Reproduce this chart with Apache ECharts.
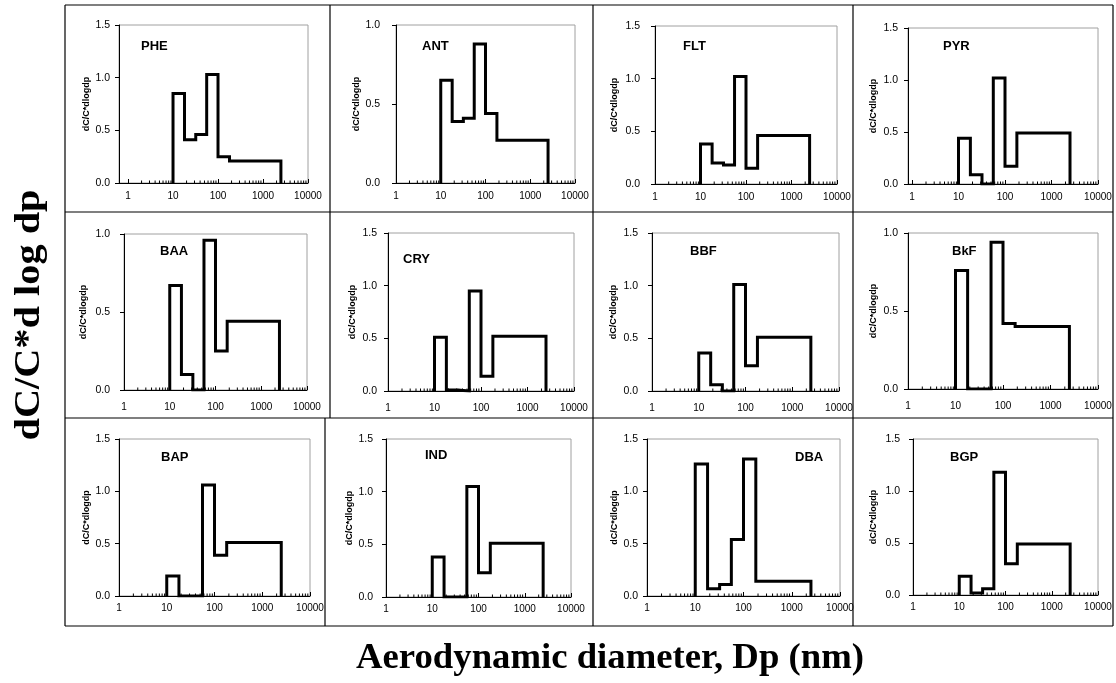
<!DOCTYPE html>
<html lang="en">
<head>
    <meta charset="UTF-8">
    <title>PAH size distributions</title>
    <script src="https://cdn.jsdelivr.net/npm/echarts@6/dist/echarts.min.js"></script>
    <style>
        html, body { margin: 0; padding: 0; background: #fff; }
        #chart { width: 1116px; height: 683px; }
    </style>
</head>
<body>
    <div id="chart"></div>
    <script>
        // impactor stage edges (nm)
        const edges = [10, 18, 32, 56, 100, 180, 2500]

        // dC/C*dlogdp per stage
        const PHE = [0.85, 0.41, 0.46, 1.03, 0.25, 0.21]
        const ANT = [0.65, 0.39, 0.41, 0.88, 0.44, 0.27]
        const FLT = [0.38, 0.20, 0.18, 1.02, 0.15, 0.46]
        const PYR = [0.44, 0.09, 0.00, 1.02, 0.17, 0.49]
        const BAA = [0.67, 0.10, 0.00, 0.96, 0.25, 0.44]
        const CRY = [0.51, 0.01, 0.00, 0.95, 0.14, 0.52]
        const BBF = [0.36, 0.06, 0.00, 1.01, 0.24, 0.51]
        const BkF = [0.76, 0.00, 0.00, 0.94, 0.42, 0.40]
        const BAP = [0.19, 0.00, 0.00, 1.06, 0.39, 0.51]
        const IND = [0.38, 0.00, 0.00, 1.05, 0.23, 0.51]
        const DBA = [1.26, 0.07, 0.11, 0.54, 1.31, 0.14]
        const BGP = [0.18, 0.02, 0.06, 1.18, 0.30, 0.49]

        const panelNames = ['PHE', 'ANT', 'FLT', 'PYR', 'BAA', 'CRY', 'BBF', 'BkF', 'BAP', 'IND', 'DBA', 'BGP']
        const panelValues = [PHE, ANT, FLT, PYR, BAA, CRY, BBF, BkF, BAP, IND, DBA, BGP]
        const yMax = [1.5, 1.0, 1.5, 1.5, 1.0, 1.5, 1.5, 1.0, 1.5, 1.5, 1.5, 1.5]
        const xMin = [0.63, 1, 1, 0.82, 1, 1, 1, 1, 1, 1, 1, 1]
        const xTickLabels = ['1', '10', '100', '1000', '10000']

        // plot boxes [left, top, width, height] and panel label spot [left, top]
        const boxes = [
            [119, 25, 189, 158], [396, 25, 179, 158], [655, 26, 182, 158], [908, 28, 190, 156],
            [124, 234, 183, 156], [388, 233, 186, 158], [652, 233, 187, 158], [908, 233, 190, 156],
            [119, 439, 191, 157], [386, 439, 185, 158], [647, 439, 193, 157], [913, 439, 185, 156]
        ]
        const labelSpots = [
            [141, 40], [422, 40], [683, 40], [943, 40],
            [160, 245], [403, 253], [690, 245], [952, 245],
            [161, 451], [425, 449], [795, 451], [950, 451]
        ]
        // distance of the y tick labels and y title from the axis line
        const yLabelGap = [9, 16, 15, 10, 14, 11, 14, 10, 9, 13, 9, 13]
        const yNameGap = [23, 34, 36, 30, 36, 31, 34, 30, 27, 31, 28, 35]
        const xLabelGap = [8, 8, 8, 8, 12, 12, 12, 12, 7, 7, 7, 7]

        // minor ticks of the log axis: 2..9 in every decade
        const minorTicks = []
        for (let d = 1; d < 10000; d *= 10) {
            for (let k = 2; k <= 9; k++) minorTicks.push([k * d, 0])
        }

        function stepPoints(vals) {
            const pts = [[edges[0], 0]]
            for (let i = 0; i < vals.length; i++) {
                pts.push([edges[i], vals[i]])
                pts.push([edges[i + 1], vals[i]])
            }
            pts.push([edges[edges.length - 1], 0])
            return pts
        }

        function decadeLabel(v) {
            const l = Math.log10(v)
            if (Math.abs(l - Math.round(l)) > 0.01) return ''
            return xTickLabels[Math.round(l)] || ''
        }

        const sans = 'Liberation Sans, Arial, sans-serif'
        const grids = [], xAxes = [], yAxes = [], series = [], titles = []

        panelNames.forEach((name, i) => {
            const b = boxes[i]
            grids.push({
                left: b[0], top: b[1], width: b[2], height: b[3],
                show: true, borderColor: '#a0a0a0', borderWidth: 1, backgroundColor: '#fff'
            })
            xAxes.push({
                type: 'log', logBase: 10, min: xMin[i], max: 10000, gridIndex: i,
                axisLine: { lineStyle: { color: '#000', width: 1 } },
                axisTick: { show: true, inside: true, length: 4, lineStyle: { color: '#000' } },
                splitLine: { show: false },
                axisLabel: {
                    color: '#000', fontSize: 10, fontFamily: sans, margin: xLabelGap[i],
                    showMinLabel: true, showMaxLabel: true, hideOverlap: false,
                    formatter: decadeLabel
                }
            })
            yAxes.push({
                type: 'value', min: 0, max: yMax[i], interval: 0.5, gridIndex: i,
                name: 'dC/C*dlogdp', nameLocation: 'middle', nameGap: yNameGap[i], nameRotate: 90,
                nameTextStyle: { color: '#000', fontSize: 9, fontWeight: 'bold', fontFamily: sans },
                axisLine: { show: true, lineStyle: { color: '#000', width: 1 } },
                axisTick: { show: true, length: 4, lineStyle: { color: '#000' } },
                splitLine: { show: false },
                axisLabel: {
                    color: '#000', fontSize: 10.5, fontFamily: sans, margin: yLabelGap[i],
                    formatter: v => v.toFixed(1)
                }
            })
            series.push({
                type: 'custom', xAxisIndex: i, yAxisIndex: i, silent: true, z: 3,
                data: minorTicks,
                renderItem: (params, api) => {
                    const p = api.coord([api.value(0), api.value(1)])
                    return {
                        type: 'line',
                        shape: { x1: p[0], y1: p[1], x2: p[0], y2: p[1] - 2.5 },
                        style: { stroke: '#000', lineWidth: 1 }
                    }
                }
            })
            series.push({
                type: 'line', name: name, xAxisIndex: i, yAxisIndex: i, z: 5,
                data: stepPoints(panelValues[i]),
                symbol: 'none',
                lineStyle: { color: '#000', width: 3, join: 'miter' }
            })
            titles.push({
                text: name, left: labelSpots[i][0], top: labelSpots[i][1], padding: 0,
                textStyle: { color: '#000', fontSize: 13, fontWeight: 'bold', fontFamily: sans }
            })
        })

        // table lines around the panels
        const cellLines = [
            [65, 5, 1113, 5], [65, 212, 1113, 212], [65, 418, 1113, 418], [65, 626, 1113, 626],
            [65, 5, 65, 626], [1113, 5, 1113, 626],
            [330, 5, 330, 418], [325, 418, 325, 626],
            [593, 5, 593, 626], [853, 5, 853, 626]
        ]
        const graphic = cellLines.map(l => ({
            type: 'line', silent: true, z: -1,
            shape: { x1: l[0], y1: l[1], x2: l[2], y2: l[3] },
            style: { stroke: '#000', lineWidth: 1.2 }
        }))
        graphic.push({
            type: 'text', x: 30, y: 315, rotation: Math.PI / 2, scaleX: 1.12,
            style: {
                text: 'dC/C*d log dp', fill: '#000', align: 'center', verticalAlign: 'middle',
                font: 'bold 36px "Liberation Serif", "Times New Roman", serif'
            }
        })
        graphic.push({
            type: 'text', x: 610, y: 659, scaleX: 1.02,
            style: {
                text: 'Aerodynamic diameter, Dp (nm)', fill: '#000', align: 'center', verticalAlign: 'middle',
                font: 'bold 36px "Liberation Serif", "Times New Roman", serif'
            }
        })

        const myChart = echarts.init(document.getElementById('chart'))
        myChart.setOption({
            animation: false,
            backgroundColor: '#fff',
            title: titles,
            grid: grids,
            xAxis: xAxes,
            yAxis: yAxes,
            series: series,
            graphic: graphic
        })
    </script>
</body>
</html>
